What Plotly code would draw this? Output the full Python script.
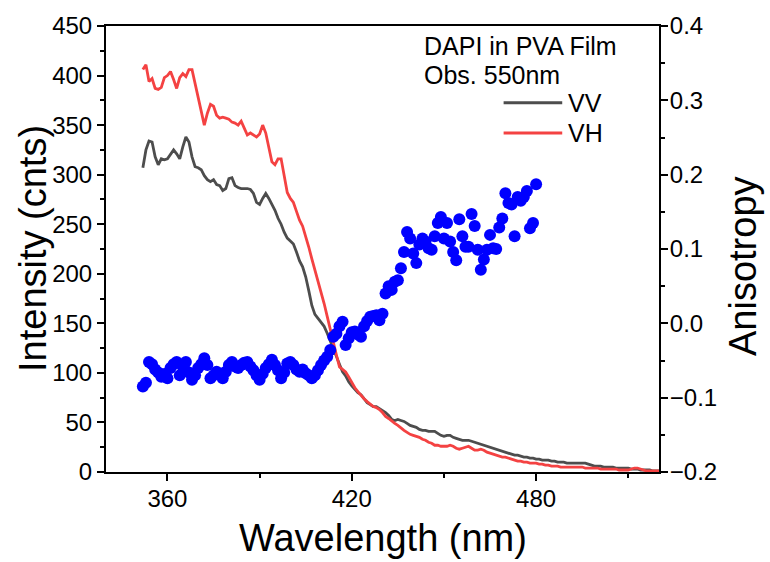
import plotly.graph_objects as go

# ---------------- data ----------------
wl_start, wl_end = 352, 520
wavelength = list(range(wl_start, wl_end + 1))

vv = [307, 325, 334, 333, 318, 310, 316, 315, 316, 320, 325, 321, 316, 328, 338, 333, 318, 308,
      307, 305, 299, 295, 293, 295, 290, 289, 284, 286, 296, 297, 289, 287, 286, 286, 286, 285,
      281, 272, 270, 276, 281, 276, 270, 264, 256, 250, 242, 236, 233, 230, 222, 213, 207, 197,
      183, 168, 159, 155, 152, 147, 140, 132, 124, 116, 108, 101, 97, 91, 87, 83, 80, 78, 74, 70,
      68, 66, 66, 64, 62, 60, 57, 53, 52, 53, 52, 51, 49, 47, 46, 45, 43, 42, 42, 41, 41, 41, 39,
      37, 36, 37, 37, 35, 34, 33, 32, 32, 32, 31, 30, 29, 28, 27, 26, 25, 24, 23, 22, 21, 20, 19,
      18, 17, 17, 16, 15, 15, 14, 14, 13, 13, 12, 12, 12, 11, 11, 10, 10, 10, 9, 9, 9, 9, 9, 9, 9,
      8, 7, 6, 6, 6, 5, 5, 5, 5, 4, 4, 4, 4, 4, 3, 3, 3, 2, 2, 2, 2, 1, 1, 1]

vh = [406, 411, 394, 397, 387, 386, 388, 398, 400, 404, 396, 387, 398, 402, 399, 406, 406, 392,
      378, 362, 350, 362, 371, 369, 360, 357, 358, 357, 356, 353, 352, 350, 354, 347, 340, 342,
      340, 338, 341, 350, 342, 327, 313, 310, 316, 316, 298, 282, 276, 272, 263, 254, 248, 238,
      227, 215, 204, 193, 182, 170, 157, 143, 130, 118, 106, 103, 101, 96, 90, 85, 81, 77, 74, 71,
      68, 66, 65, 63, 60, 56, 54, 51, 49, 47, 44, 42, 40, 38, 37, 36, 35, 33, 32, 30, 29, 27, 27,
      26, 26, 26, 27, 26, 24, 23, 24, 25, 26, 24, 22, 22, 23, 22, 20, 19, 18, 17, 16, 15, 15, 14,
      13, 12, 11, 11, 10, 10, 9, 9, 9, 8, 8, 7, 7, 6, 6, 6, 5, 5, 5, 5, 5, 5, 5, 5, 4, 4, 4, 4, 4,
      3, 3, 3, 3, 3, 3, 2, 2, 2, 2, 3, 4, 4, 3, 2, 1, 1, 1, 1, 1]

aniso_wavelength = list(range(352, 481))
anisotropy = [-0.085, -0.080, -0.052, -0.055, -0.062, -0.066, -0.072, -0.068, -0.074, -0.060,
              -0.055, -0.052, -0.070, -0.058, -0.052, -0.066, -0.076, -0.070, -0.060, -0.055,
              -0.047, -0.056, -0.074, -0.070, -0.065, -0.068, -0.074, -0.065, -0.056, -0.052,
              -0.058, -0.060, -0.056, -0.053, -0.052, -0.058, -0.063, -0.070, -0.076, -0.068,
              -0.060, -0.055, -0.049, -0.056, -0.063, -0.074, -0.066, -0.054, -0.052, -0.056,
              -0.062, -0.065, -0.062, -0.067, -0.070, -0.074, -0.070, -0.063, -0.056, -0.050,
              -0.045, -0.036, -0.018, -0.014, -0.004, 0.002, -0.029, -0.020, -0.012, -0.011,
              -0.015, -0.018, -0.004, 0.003, 0.009, 0.010, 0.011, 0.004, 0.013, 0.040,
              0.050, 0.045, 0.056, 0.058, 0.074, 0.096, 0.123, 0.114, 0.094, 0.081,
              0.106, 0.114, 0.110, 0.101, 0.099, 0.117, 0.135, 0.143, 0.114, 0.135,
              0.110, 0.096, 0.085, 0.140, 0.117, 0.103, 0.103, 0.147, 0.131, 0.099,
              0.072, 0.086, 0.099, 0.119, 0.101, 0.100, 0.129, 0.141, 0.175, 0.162,
              0.160, 0.117, 0.170, 0.165, 0.170, 0.178, 0.128, 0.135, 0.187]

x_range = [340, 520]
y_range = [0, 450]
y2_range = [-0.2, 0.4]
legend_names = ["VV", "VH"]
note_lines = ["DAPI in PVA Film", "Obs. 550nm"]

# ---------------- figure ----------------
FONT = "Liberation Sans, Arial, sans-serif"
GREY = "#4D4D4D"
RED = "#F44242"
BLUE = "#0000FF"

fig = go.Figure()
fig.add_trace(go.Scatter(x=wavelength, y=vv, mode="lines", name=legend_names[0],
                         line=dict(color=GREY, width=2.8), showlegend=False))
fig.add_trace(go.Scatter(x=wavelength, y=vh, mode="lines", name=legend_names[1],
                         line=dict(color=RED, width=2.8), showlegend=False))
fig.add_trace(go.Scatter(x=aniso_wavelength, y=anisotropy, mode="markers", yaxis="y2",
                         marker=dict(color=BLUE, size=12, line=dict(width=0)),
                         showlegend=False))

axis_common = dict(showline=True, linecolor="black", linewidth=2, showgrid=False,
                   zeroline=False, ticks="outside", ticklen=7, tickwidth=2, tickcolor="black",
                   tickfont=dict(family=FONT, size=24, color="black"))

fig.update_layout(
    width=770, height=562,
    margin=dict(l=106, r=111, t=26, b=90),
    paper_bgcolor="white", plot_bgcolor="white",
    font=dict(family=FONT, color="black"),
    xaxis=dict(range=x_range, tick0=360, dtick=60, mirror=True, ticklabelstandoff=-3,
               minor=dict(dtick=30, tick0=360, ticklen=4, tickwidth=2, ticks="outside",
                          tickcolor="black", showgrid=False),
               **axis_common),
    yaxis=dict(range=y_range, tick0=0, dtick=50,
               minor=dict(dtick=25, ticklen=4, tickwidth=2, ticks="outside",
                          tickcolor="black", showgrid=False),
               **axis_common),
    yaxis2=dict(range=y2_range, tick0=-0.2, dtick=0.1, tickformat=".1f", overlaying="y",
                side="right", ticklabelstandoff=-3,
                minor=dict(dtick=0.05, ticklen=4, tickwidth=2, ticks="outside",
                           tickcolor="black", showgrid=False),
                **axis_common),
)

# axis titles
fig.add_annotation(text="Wavelength (nm)", xref="paper", yref="paper", x=0.5, y=-0.148,
                   showarrow=False, font=dict(family=FONT, size=38), xanchor="center",
                   yanchor="middle")
fig.add_annotation(text="Intensity (cnts)", xref="paper", yref="paper", x=-0.132, y=0.50,
                   showarrow=False, font=dict(family=FONT, size=38), textangle=-90,
                   xanchor="center", yanchor="middle")
fig.add_annotation(text="Anisotropy", xref="paper", yref="paper", x=1.152, y=0.462,
                   showarrow=False, font=dict(family=FONT, size=38), textangle=-90,
                   xanchor="center", yanchor="middle")

# note text
fig.add_annotation(text=note_lines[0], xref="paper", yref="paper", x=0.572, y=0.955,
                   showarrow=False, font=dict(family=FONT, size=25), xanchor="left",
                   yanchor="middle")
fig.add_annotation(text=note_lines[1], xref="paper", yref="paper", x=0.572, y=0.89,
                   showarrow=False, font=dict(family=FONT, size=25), xanchor="left",
                   yanchor="middle")

# legend (manual)
for i, (name, col) in enumerate(zip(legend_names, [GREY, RED])):
    yp = 0.828 - i * 0.068
    fig.add_shape(type="line", xref="paper", yref="paper", x0=0.719, x1=0.825, y0=yp, y1=yp,
                  line=dict(color=col, width=3))
    fig.add_annotation(text=name, xref="paper", yref="paper", x=0.832, y=yp,
                       showarrow=False, font=dict(family=FONT, size=25), xanchor="left",
                       yanchor="middle")

fig.write_html("out.html")
